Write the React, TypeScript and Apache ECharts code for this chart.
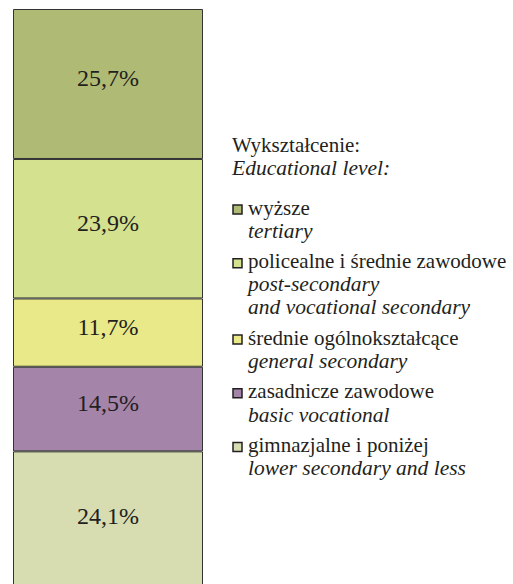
import React, { useEffect, useRef } from "react";
import * as echarts from "echarts";

// bottom to top
const categoriesPl = [
  "gimnazjalne i poniżej",
  "zasadnicze zawodowe",
  "średnie ogólnokształcące",
  "policealne i średnie zawodowe",
  "wyższe",
];
const categoriesEn = [
  ["lower secondary and less"],
  ["basic vocational"],
  ["general secondary"],
  ["post-secondary", "and vocational secondary"],
  ["tertiary"],
];
const values = [24.1, 14.5, 11.7, 23.9, 25.7];
const colors = ["#D7DDB1", "#A584A9", "#E9E989", "#D4E18F", "#AFBB75"];
const titlePl = "Wykształcenie:";
const titleEn = "Educational level:";

const FONT = "Liberation Serif";

export default function App() {
  const ref = useRef<HTMLDivElement>(null);
  useEffect(() => {
    if (!ref.current) return;
    const chart = echarts.init(ref.current, null, { renderer: "svg" });
    const total = values.reduce((a, b) => a + b, 0);

    const series = values.map((v, i) => ({
      name: categoriesPl[i],
      type: "bar" as const,
      stack: "total",
      barWidth: "100%",
      data: [v],
      itemStyle: { color: colors[i], borderColor: "#333333", borderWidth: 1 },
      label: {
        show: true,
        position: "inside" as const,
        offset: [0, -6],
        formatter: () => v.toFixed(1).replace(".", ",") + "%",
        fontFamily: FONT,
        fontSize: 24,
        color: "#231F20",
      },
    }));

    const graphics: any[] = [];
    const lx = 233;
    const tx = 248;
    const lh = 22.7;
    const itemGap = 31;
    const asc = 18; // baseline offset from text top
    const txt = (x: number, baseline: number, text: string, italic: boolean) => ({
      type: "text",
      left: x,
      top: baseline - asc,
      style: {
        text,
        fontFamily: FONT,
        fontSize: italic ? 21.5 : 21,
        fontStyle: italic ? "italic" : "normal",
        fill: "#231F20",
      },
    });
    graphics.push(txt(232, 152, titlePl, false));
    graphics.push(txt(232, 152 + 22.5, titleEn, true));
    let b = 215;
    for (let k = categoriesPl.length - 1; k >= 0; k--) {
      graphics.push({
        type: "rect",
        shape: { x: lx, y: b - 10, width: 9, height: 9 },
        style: { fill: colors[k], stroke: "#231F20", lineWidth: 1.5 },
      });
      graphics.push(txt(tx, b, categoriesPl[k], false));
      categoriesEn[k].forEach((t, j) => {
        graphics.push(txt(tx, b + lh * (j + 1), t, true));
      });
      b += lh * categoriesEn[k].length + itemGap;
    }

    chart.setOption({
      animation: false,
      grid: { left: 13, top: 9, width: 190, height: 583 },
      xAxis: { type: "category", data: ["2011"], show: false },
      yAxis: { type: "value", min: 0, max: total, show: false },
      series,
      graphic: graphics,
    });
    return () => chart.dispose();
  }, []);
  return (
    <div
      ref={ref}
      style={{ position: "fixed", left: 0, top: 0, width: 513, height: 600, background: "#fff" }}
    />
  );
}
